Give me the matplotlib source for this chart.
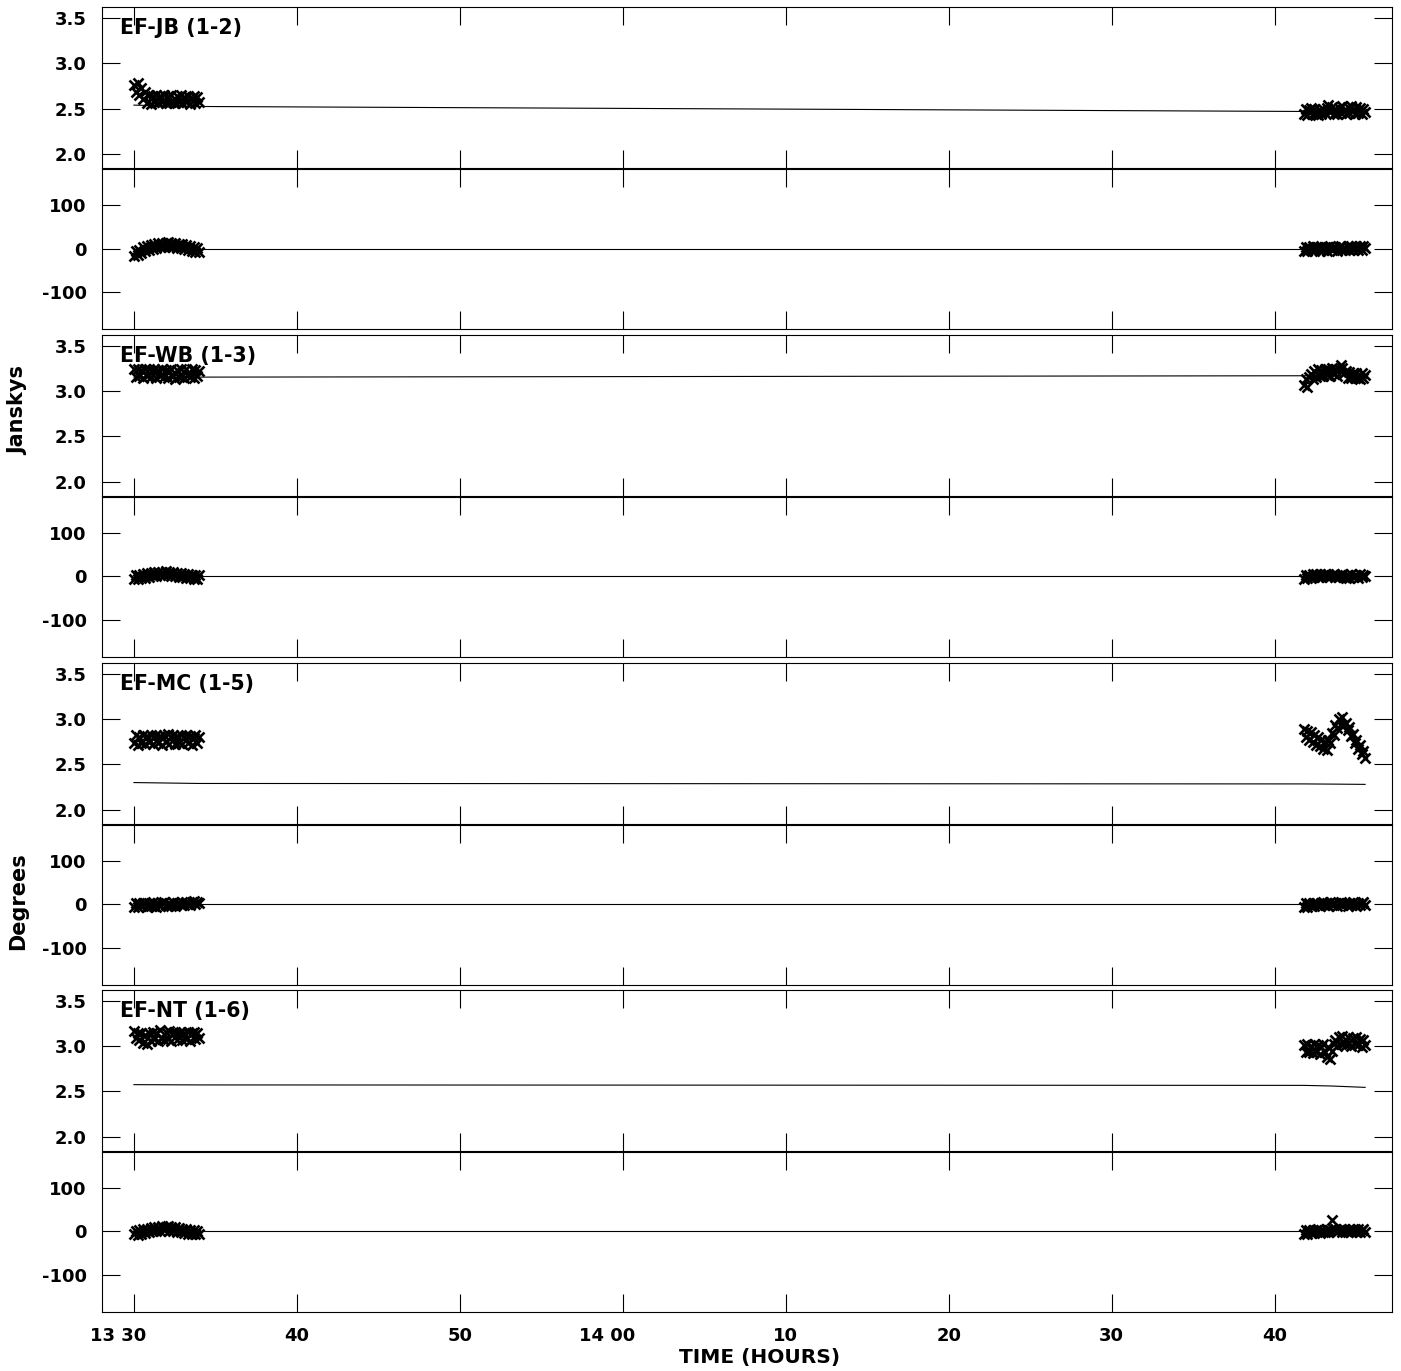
import matplotlib
matplotlib.use("Agg")
import matplotlib.pyplot as plt

plt.rcParams["font.family"] = ["DejaVu Sans"]
plt.rcParams["font.weight"] = "bold"
plt.rcParams["axes.unicode_minus"] = False

# Figure geometry (pixels)
W, H = 1401, 1371
AX_LEFT, AX_RIGHT = 102, 1392
PAIR_TOPS = [7.3, 335, 663, 990]
AMP_H, GAP, PH_H = 160.5, 1.5, 160

# Time in minutes after 13:00 UT
X_LIM = [28.04, 107.2]
X_TICKS = [30, 40, 50, 60, 70, 80, 90, 100]
X_TICK_LABELS = ["13 30", "40", "50", "14 00", "10", "20", "30", "40"]

AMP_TICKS = [2.0, 2.5, 3.0, 3.5]
AMP_TICK_LABELS = ["2.0", "2.5", "3.0", "3.5"]
AMP_LIM = [1.848, 3.62]
PH_TICKS = [-100, 0, 100]
PH_TICK_LABELS = ["-100", "0", "100"]
PH_LIM = [-184, 181]

BASELINES = ["EF-JB (1-2)", "EF-WB (1-3)", "EF-MC (1-5)", "EF-NT (1-6)"]

# Sample times of the two scans
TIME_LEFT = [30.0, 30.11, 30.23, 30.34, 30.46, 30.57, 30.69, 30.8, 30.91, 31.03, 31.14, 31.26,
             31.37, 31.49, 31.6, 31.71, 31.83, 31.94, 32.06, 32.17, 32.29, 32.4, 32.51, 32.63,
             32.74, 32.86, 32.97, 33.09, 33.2, 33.31, 33.43, 33.54, 33.66, 33.77, 33.89, 34.0]
TIME_RIGHT = [101.8, 101.91, 102.01, 102.12, 102.23, 102.34, 102.44, 102.55, 102.66, 102.76, 102.87, 102.98,
              103.09, 103.19, 103.3, 103.41, 103.51, 103.62, 103.73, 103.84, 103.94, 104.05, 104.16, 104.26,
              104.37, 104.48, 104.59, 104.69, 104.8, 104.91, 105.01, 105.12, 105.23, 105.34, 105.44, 105.55]

# Amplitudes (Jy)
AMP_LEFT = [
    [2.76, 2.68, 2.78, 2.65, 2.73, 2.61, 2.69, 2.56, 2.65, 2.55, 2.64, 2.57,
     2.65, 2.56, 2.64, 2.57, 2.65, 2.56, 2.64, 2.56, 2.65, 2.57, 2.56, 2.64,
     2.57, 2.65, 2.56, 2.63, 2.57, 2.64, 2.55, 2.62, 2.64, 2.56, 2.63, 2.57],
    [3.24, 3.16, 3.25, 3.17, 3.23, 3.15, 3.24, 3.17, 3.25, 3.16, 3.22, 3.24,
     3.15, 3.23, 3.17, 3.25, 3.16, 3.23, 3.14, 3.22, 3.25, 3.17, 3.13, 3.23,
     3.16, 3.24, 3.17, 3.15, 3.25, 3.18, 3.16, 3.24, 3.14, 3.23, 3.17, 3.22],
    [2.74, 2.82, 2.72, 2.80, 2.74, 2.83, 2.73, 2.81, 2.75, 2.83, 2.73, 2.80,
     2.82, 2.74, 2.81, 2.72, 2.82, 2.75, 2.84, 2.73, 2.80, 2.82, 2.73, 2.81,
     2.74, 2.83, 2.73, 2.80, 2.82, 2.74, 2.81, 2.72, 2.79, 2.82, 2.74, 2.80],
    [3.17, 3.09, 3.15, 3.07, 3.14, 3.03, 3.12, 3.02, 3.14, 3.06, 3.16, 3.08,
     3.15, 3.06, 3.18, 3.09, 3.07, 3.16, 3.08, 3.17, 3.06, 3.14, 3.16, 3.07,
     3.14, 3.16, 3.07, 3.15, 3.08, 3.16, 3.06, 3.14, 3.16, 3.08, 3.15, 3.09],
]
AMP_RIGHT = [
    [2.44, 2.50, 2.43, 2.49, 2.51, 2.44, 2.50, 2.44, 2.43, 2.49, 2.44, 2.50,
     2.45, 2.51, 2.54, 2.46, 2.52, 2.44, 2.50, 2.44, 2.51, 2.45, 2.53, 2.47,
     2.44, 2.52, 2.45, 2.53, 2.47, 2.44, 2.52, 2.45, 2.51, 2.44, 2.50, 2.46],
    [3.07, 3.13, 3.05, 3.16, 3.19, 3.13, 3.22, 3.16, 3.24, 3.17, 3.23, 3.17,
     3.24, 3.18, 3.25, 3.17, 3.26, 3.19, 3.25, 3.17, 3.24, 3.29, 3.26, 3.20,
     3.22, 3.15, 3.21, 3.14, 3.20, 3.14, 3.20, 3.15, 3.13, 3.20, 3.15, 3.18],
    [2.89, 2.80, 2.87, 2.77, 2.86, 2.75, 2.83, 2.72, 2.80, 2.70, 2.77, 2.67,
     2.75, 2.66, 2.77, 2.74, 2.85, 2.82, 2.93, 2.90, 3.00, 2.94, 3.02, 2.94,
     2.96, 2.88, 2.91, 2.81, 2.84, 2.74, 2.77, 2.67, 2.71, 2.62, 2.65, 2.57],
    [3.01, 2.94, 3.02, 2.94, 3.00, 2.92, 3.02, 2.94, 3.01, 2.91, 2.99, 3.02,
     2.93, 2.88, 2.99, 2.86, 2.95, 3.02, 3.07, 3.00, 3.10, 3.02, 3.11, 3.04,
     3.01, 3.10, 3.03, 3.00, 3.09, 3.02, 3.10, 3.01, 3.08, 2.99, 3.07, 3.01],
]

# Phases (degrees)
PH_LEFT = [
    [-16, -6, -14, -2, -10, 3, -6, 6, -2, 9, 0, 11,
     2, 13, 4, 14, 3, 12, 15, 4, 13, 3, 12, 2,
     11, 1, 10, -1, 8, -3, 6, -5, 4, -7, 2, -8],
    [-6, 3, -5, 4, -4, 5, -3, 7, -1, 8, 0, 9,
     1, 10, 2, 11, 3, 12, 2, 10, 1, 9, 0, 8,
     -1, 7, -2, 6, -3, 5, -4, 4, -5, 3, -6, 2],
    [-5, 3, -6, 4, -4, 2, 4, -5, 3, -4, 5, -3,
     -5, 4, -3, 2, 5, -2, -4, 4, -3, 5, -3, 3,
     4, -2, 6, -1, 6, 0, -2, 5, 7, 0, 6, 2],
    [-7, 1, -8, 3, -5, 5, -3, 6, -2, 8, 0, 10,
     0, 11, 1, 12, 2, 10, 12, 1, 10, 0, 9, -1,
     8, -2, 6, -4, 5, -5, 3, -6, 3, -7, 1, -6],
]
PH_RIGHT = [
    [-5, 4, -6, 3, -4, 5, -5, 3, 4, -6, 3, -4,
     4, -5, 3, 5, -4, 2, 4, -5, 3, 5, -3, 2,
     -1, 6, -2, 5, -3, 4, 7, -2, 5, -2, 6, 1],
    [-5, 3, -4, 4, -3, 5, -2, 5, -2, 6, -1, 3,
     5, -2, 6, -1, 3, 5, -2, 4, -1, 3, 5, -2,
     -4, 4, -3, 5, -2, 3, 4, -3, 5, -2, 3, 1],
    [-6, 2, -5, 3, -4, 3, -3, 4, -2, -4, 3, 5,
     -2, 4, -3, 5, -1, 2, 4, -3, 3, 5, -2, 4,
     3, -3, 4, -2, 5, -1, -3, 4, -2, 3, 5, -2],
    [-6, 3, -7, 2, -4, 4, -4, 3, 5, -3, 4, -2,
     -1, 5, -2, 4, 25, 3, 5, -2, 4, 6, -1, 5,
     0, -2, 5, -1, 6, 0, -2, 5, -1, 4, 6, -1],
]

# Model curves
MODEL_TIME = [30.0, 34.0, 101.8, 103.5, 105.55]
AMP_MODEL = [
    [2.54, 2.525, 2.47, 2.468, 2.465],
    [3.155, 3.155, 3.17, 3.17, 3.17],
    [2.30, 2.29, 2.285, 2.283, 2.28],
    [2.575, 2.572, 2.567, 2.56, 2.545],
]
PH_MODEL = [0, 0, 0, 0, 0]


def px_rect(top, height):
    return [AX_LEFT / W, 1 - (top + height) / H, (AX_RIGHT - AX_LEFT) / W, height / H]


def style_axes(ax, ticks, labels, lim):
    ax.set_xlim(X_LIM)
    ax.set_ylim(lim)
    ax.set_xticks(X_TICKS)
    ax.set_yticks(ticks)
    ax.set_yticklabels(labels)
    ax.tick_params(direction="in", length=13, width=0.8, top=True, right=True,
                   labelbottom=False, labelsize=13, pad=11, colors="black")
    for sp in ax.spines.values():
        sp.set_linewidth(0.8)
    for lab in ax.get_yticklabels():
        lab.set_fontweight("bold")


def plot_points(ax, x, y):
    ax.plot(x, y, "x", color="black", markersize=7.5, markeredgewidth=1.9)


fig = plt.figure(figsize=(W / 100, H / 100), dpi=100)

for i, name in enumerate(BASELINES):
    top = PAIR_TOPS[i]
    ax_amp = fig.add_axes(px_rect(top, AMP_H))
    ax_ph = fig.add_axes(px_rect(top + AMP_H + GAP, PH_H))

    plot_points(ax_amp, TIME_LEFT, AMP_LEFT[i])
    plot_points(ax_amp, TIME_RIGHT, AMP_RIGHT[i])
    ax_amp.plot(MODEL_TIME, AMP_MODEL[i], color="black", linewidth=0.8)
    style_axes(ax_amp, AMP_TICKS, AMP_TICK_LABELS, AMP_LIM)
    ax_amp.annotate(name, xy=(0, 1), xycoords="axes fraction", xytext=(18, -27),
                    textcoords="offset pixels", ha="left", va="baseline",
                    fontsize=14.8, fontweight="bold")

    plot_points(ax_ph, TIME_LEFT, PH_LEFT[i])
    plot_points(ax_ph, TIME_RIGHT, PH_RIGHT[i])
    ax_ph.plot(MODEL_TIME, PH_MODEL, color="black", linewidth=0.8)
    style_axes(ax_ph, PH_TICKS, PH_TICK_LABELS, PH_LIM)

# Time labels: minutes centred on the tick, hours hanging to the left
for t, lab in zip(X_TICKS, X_TICK_LABELS):
    ax_ph.annotate(lab, xy=(t, 0), xycoords=("data", "axes fraction"),
                   xytext=(9, -11), textcoords="offset points",
                   ha="right", va="top", fontsize=13, fontweight="bold")

fig.text(18 / W, 1 - 410 / H, "Janskys", rotation=90, ha="center", va="center",
         fontsize=15, fontweight="bold")
fig.text(18 / W, 1 - 901 / H, "Degrees", rotation=90, ha="center", va="center",
         fontsize=15, fontweight="bold")
fig.text(760 / W, 1 - 1357 / H, "TIME (HOURS)", ha="center", va="center",
         fontsize=14.5, fontweight="bold")

fig.savefig("out.png", dpi=100)
